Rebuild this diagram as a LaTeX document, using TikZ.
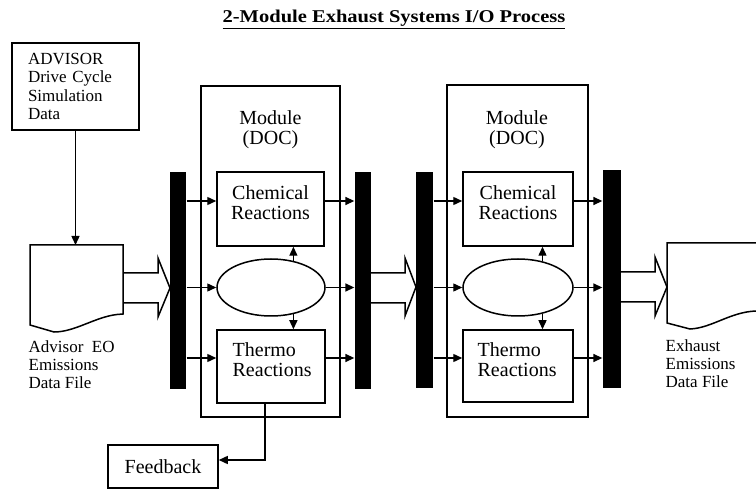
\documentclass[tikz,border=0pt]{standalone}
\usepackage{fontspec}
\setmainfont{Liberation Serif}
\usetikzlibrary{arrows.meta,shapes.geometric}
\begin{document}
\begin{tikzpicture}[x=1pt,y=-1pt,
  line width=1.3pt,
  box/.style={draw, line width=1.5pt, inner sep=0pt},
  bar/.style={fill=black, draw=none, inner sep=0pt, minimum width=16pt, minimum height=217pt},
  arr/.style={-{Triangle[length=9pt,width=8pt]}, line width=1.4pt},
  rtxt/.style={font=\fontsize{20}{20}\selectfont, inner sep=0pt, align=center},
  ltxt/.style={font=\fontsize{17}{18.2}\selectfont, inner sep=0pt, align=left, anchor=west},
  blk/.style={line width=1.5pt, line join=miter},
]
\useasboundingbox (0,0) rectangle (756,489);

% title
\node[anchor=base, font=\bfseries\fontsize{18}{20}\selectfont, inner sep=0pt] (title) at (394,23)
  {\scalebox{1.14}[1]{\underline{2-Module Exhaust Systems I/O Process}}};

% ADVISOR box
\node[box, minimum width=127pt, minimum height=87pt, text width=95pt, inner xsep=16pt,
  align=left, font=\fontsize{17}{18.2}\selectfont] (adv) at (75.5,86.5)
  {ADVISOR\\Drive Cycle\\Simulation\\Data};

% input document
\draw[blk] (30,245) -- (123,245) -- (123,314) -- (117,314.5)
  .. controls (95,317) and (75,332) .. (54,332) -- (30,325) -- cycle;
\coordinate (d1top) at (77,245);
\draw[arr] (adv.south) -- (adv.south |- d1top);
\node[ltxt] (d1l) at (28,364.5) {Advisor\ \ EO\\Emissions\\Data File};

% bars
\node[bar] (b1) at (178,280.5) {};
\node[bar] (b2) at (363,280.5) {};
\node[bar, minimum width=17pt, minimum height=216pt] (b3) at (424.5,280) {};
\node[bar, minimum width=18pt, minimum height=218pt] (b4) at (612,279) {};

% block arrows
\draw[blk] (123,273) -- (158,273) -- (158,258) -- (170,288) -- (158,317) -- (158,303) -- (123,303);
\draw[blk] (371,273) -- (405,273) -- (405,258) -- (416,287) -- (405,316) -- (405,303) -- (371,303);
\draw[blk] (621,272) -- (655,272) -- (655,257) -- (667,287) -- (655,316) -- (655,302) -- (621,302);

% output document
\draw[blk] (756,243) -- (667,243) -- (667,323) -- (690,329)
  .. controls (712,328) and (730,312) .. (756,311);
\node[ltxt] (d2l) at (665,363.5) {Exhaust\\Emissions\\Data File};

% ---------- module 1
\node[box, line width=1.2pt, minimum width=139pt, minimum height=331pt] (m1) at (270.5,251.5) {};
\node[rtxt] (m1t) at (270.5,130) {Module\\(DOC)};
\node[box, minimum width=107pt, minimum height=74pt] (c1) at (270.5,209) {};
\node[rtxt] (c1t) at (270.5,203) {Chemical\\Reactions};
\node[draw, ellipse, line width=1.5pt, minimum width=108pt, minimum height=57pt, inner sep=0pt] (e1) at (271,287.5) {};
\node[box, minimum width=108pt, minimum height=73pt] (t1) at (271,366.5) {};
\node[rtxt, align=left, anchor=west] (t1t) at (232,359.5) {Thermo\\Reactions};

\coordinate (c1in) at ([yshift=8pt]c1.west);
\coordinate (c1out) at ([yshift=8pt]c1.east);
\coordinate (t1in) at ([yshift=8.5pt]t1.west);
\coordinate (t1out) at ([yshift=8.5pt]t1.east);
\draw[arr] (c1in -| b1.east) -- (c1in);
\draw[arr] (e1.west -| b1.east) -- (e1.west);
\draw[arr] (t1in -| b1.east) -- (t1in);
\draw[arr] (c1out) -- (c1out -| b2.west);
\draw[arr] (e1.east) -- (e1.east -| b2.west);
\draw[arr] (t1out) -- (t1out -| b2.west);
\draw[arr] (e1.50) -- (e1.50 |- c1.south);
\draw[arr] (e1.-50) -- (e1.-50 |- t1.north);

% feedback
\node[box, minimum width=110pt, minimum height=43pt, font=\fontsize{20}{20}\selectfont] (fb) at (163,466.5) {Feedback};
\coordinate (fbin) at ([yshift=6.5pt]fb.east);
\draw[arr] ([xshift=-6pt]t1.south) |- (fbin);

% ---------- module 2
\node[box, line width=1.2pt, minimum width=141pt, minimum height=332pt] (m2) at (517.5,251) {};
\node[rtxt] (m2t) at (517,130) {Module\\(DOC)};
\node[box, minimum width=110pt, minimum height=74pt] (c2) at (518,209) {};
\node[rtxt] (c2t) at (518,203) {Chemical\\Reactions};
\node[draw, ellipse, line width=1.5pt, minimum width=110pt, minimum height=57pt, inner sep=0pt] (e2) at (518,287.5) {};
\node[box, minimum width=110pt, minimum height=72pt] (t2) at (518,366) {};
\node[rtxt, align=left, anchor=west] (t2t) at (477,359.5) {Thermo\\Reactions};

\coordinate (c2in) at ([yshift=8pt]c2.west);
\coordinate (c2out) at ([yshift=8pt]c2.east);
\coordinate (t2in) at ([yshift=8pt]t2.west);
\coordinate (t2out) at ([yshift=8pt]t2.east);
\draw[arr] (c2in -| b3.east) -- (c2in);
\draw[arr] (e2.west -| b3.east) -- (e2.west);
\draw[arr] (t2in -| b3.east) -- (t2in);
\draw[arr] (c2out) -- (c2out -| b4.west);
\draw[arr] (e2.east) -- (e2.east -| b4.west);
\draw[arr] (t2out) -- (t2out -| b4.west);
\draw[arr] (e2.47) -- (e2.47 |- c2.south);
\draw[arr] (e2.-47) -- (e2.-47 |- t2.north);
\end{tikzpicture}
\end{document}
